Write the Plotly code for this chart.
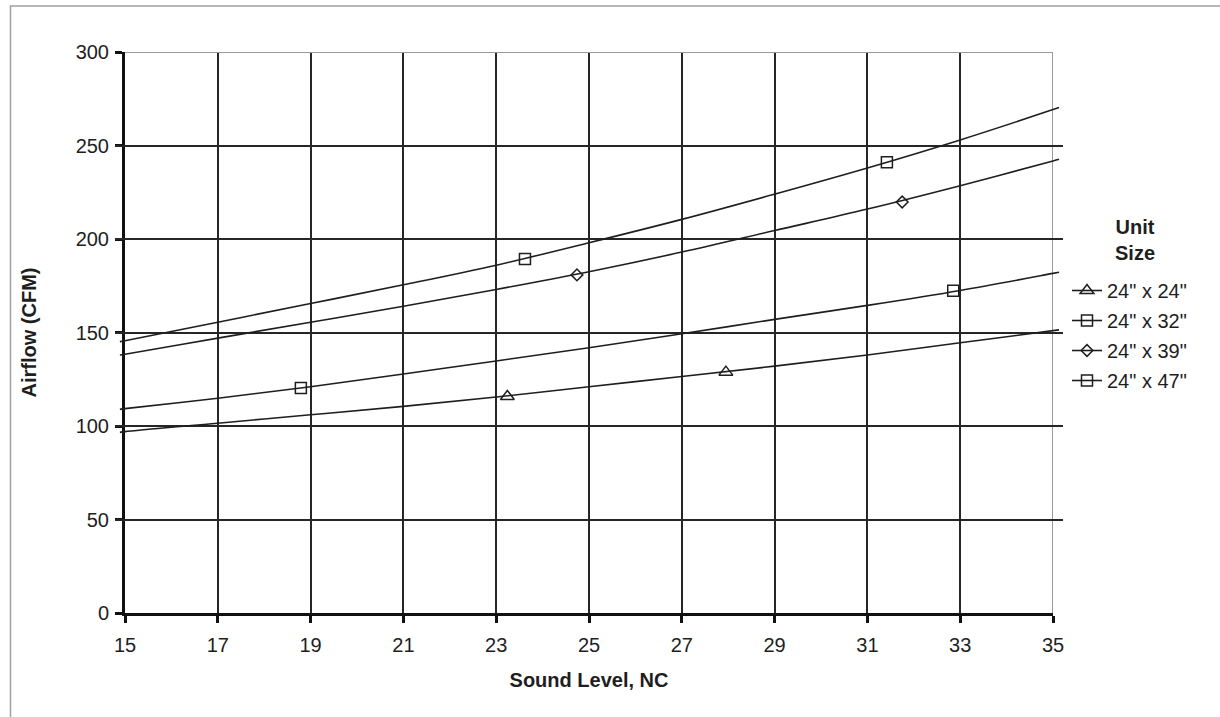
import plotly.graph_objects as go

# ---------------- data ----------------
x_ticks = [15, 17, 19, 21, 23, 25, 27, 29, 31, 33, 35]
y_ticks = [0, 50, 100, 150, 200, 250, 300]

series_names = ['24" x 24"', '24" x 32"', '24" x 39"', '24" x 47"']
series_symbols = ["triangle-up-open", "square-open", "diamond-open", "square-open"]
series_marker_sizes = [12, 11, 9, 11]

# trend curves (sampled along the drawn line)
curve_x = [14.89, 15, 17, 19, 21, 23, 25, 27, 29, 31, 33, 35, 35.13]
curve_24x24 = [96.6, 97.0, 101.5, 106.0, 110.5, 115.5, 121.0, 126.5, 132.0, 138.0, 144.5, 151.0, 151.4]
curve_24x32 = [108.9, 109.3, 114.8, 121.0, 127.8, 134.8, 141.8, 149.3, 157.0, 164.5, 172.5, 181.6, 182.2]
curve_24x39 = [138.0, 138.4, 147.0, 155.5, 164.0, 173.0, 182.5, 193.0, 204.5, 216.0, 228.5, 241.7, 242.6]
curve_24x47 = [145.1, 145.6, 155.5, 165.5, 175.5, 186.0, 198.0, 210.5, 224.0, 238.0, 253.0, 269.2, 270.3]

# data points (markers)
pts_x_24x24 = [23.24, 27.95]
pts_y_24x24 = [115.8, 128.8]
pts_x_24x32 = [18.79, 32.85]
pts_y_24x32 = [120.3, 172.3]
pts_x_24x39 = [24.74, 31.75]
pts_y_24x39 = [180.8, 219.8]
pts_x_24x47 = [23.62, 31.42]
pts_y_24x47 = [189.3, 241.0]

curves = [curve_24x24, curve_24x32, curve_24x39, curve_24x47]
pts_x = [pts_x_24x24, pts_x_24x32, pts_x_24x39, pts_x_24x47]
pts_y = [pts_y_24x24, pts_y_24x32, pts_y_24x39, pts_y_24x47]

# ---------------- geometry ----------------
W, H = 1220, 717
ML, MR, MT, MB = 115, 157, 52, 104          # outer plot area (slightly wider than axes)
AX_L, AX_R = 125, 1053                       # pixel positions of x=15 and x=35
plot_w = W - ML - MR
plot_h = H - MT - MB
dom0 = (AX_L - ML) / plot_w
dom1 = (AX_R - ML) / plot_w
upx = (x_ticks[-1] - x_ticks[0]) / (AX_R - AX_L)
x2_range = [x_ticks[0] - (AX_L - ML) * upx, x_ticks[-1] + (W - MR - AX_R) * upx]


def px_x(p):
    return (p - ML) / plot_w


def px_y(p):
    return 1 - (p - MT) / plot_h


FONT = "Liberation Sans, Arial, sans-serif"
INK = "#1e1e1e"
GRID = "#262626"

fig = go.Figure()

for i, (name, sym, ms, cy, px, py) in enumerate(zip(series_names, series_symbols,
                                                    series_marker_sizes, curves, pts_x, pts_y)):
    grp = "g%d" % i
    fig.add_trace(go.Scatter(
        x=curve_x, y=cy, mode="lines", xaxis="x2", yaxis="y", legendgroup=grp,
        line=dict(color=INK, width=1.6, shape="spline"),
        showlegend=False, hoverinfo="skip"))
    fig.add_trace(go.Scatter(
        x=px, y=py, mode="markers", xaxis="x", yaxis="y", legendgroup=grp,
        marker=dict(symbol=sym, size=ms, color=INK, line=dict(color=INK, width=1.5)),
        showlegend=False, name=name))
    fig.add_trace(go.Scatter(
        x=[None], y=[None], mode="lines+markers", name=name, legendgroup=grp,
        line=dict(color=INK, width=1.6),
        marker=dict(symbol=sym, size=ms, color=INK, line=dict(color=INK, width=1.5))))

fig.update_layout(
    width=W, height=H,
    margin=dict(l=ML, r=MR, t=MT, b=MB, pad=0),
    paper_bgcolor="white", plot_bgcolor="rgba(0,0,0,0)",
    font=dict(family=FONT, size=20, color=INK),
    showlegend=True,
    legend=dict(
        x=px_x(1067), xanchor="left", y=px_y(271), yanchor="top",
        bgcolor="rgba(0,0,0,0)", borderwidth=0,
        font=dict(size=20, color=INK),
        tracegroupgap=1, itemwidth=30,
    ),
    xaxis=dict(
        domain=[dom0, dom1], range=[x_ticks[0], x_ticks[-1]],
        tickvals=x_ticks, ticktext=[str(v) for v in x_ticks],
        showgrid=True, gridcolor=GRID, gridwidth=1.5,
        showline=True, linecolor="#111", linewidth=3,
        ticks="outside", ticklen=7, tickwidth=3, tickcolor="#111",
        ticklabelstandoff=5,
        zeroline=False, anchor="y",
        title=dict(text="<b>Sound Level, NC</b>", standoff=18, font=dict(size=20)),
    ),
    xaxis2=dict(domain=[0, 1], range=x2_range, visible=False, anchor="y",
                showgrid=False, zeroline=False),
    yaxis=dict(
        range=[y_ticks[0], y_ticks[-1]], tickvals=y_ticks,
        showgrid=True, gridcolor=GRID, gridwidth=1.5,
        showline=True, linecolor="#111", linewidth=3,
        ticks="outside", ticklen=7, tickwidth=3, tickcolor="#111",
        ticklabelstandoff=2,
        zeroline=False, anchor="x",
        title=dict(text="<b>Airflow (CFM)</b>", standoff=34, font=dict(size=20)),
    ),
    annotations=[dict(
        text="<b>Unit<br>Size</b>", xref="paper", yref="paper",
        x=px_x(1135), y=px_y(240.5), xanchor="center", yanchor="middle",
        showarrow=False, align="center", font=dict(size=20, color=INK))],
)

# gray top / right frame of the plot area
fig.add_shape(type="line", xref="x", yref="y", x0=x_ticks[0], x1=x_ticks[-1],
              y0=y_ticks[-1], y1=y_ticks[-1], line=dict(color="#9a9a9a", width=2), layer="between")
fig.add_shape(type="line", xref="x", yref="y", x0=x_ticks[-1], x1=x_ticks[-1],
              y0=y_ticks[0], y1=y_ticks[-1], line=dict(color="#9a9a9a", width=2), layer="between")

# outer chart frame (left and top edges visible)
fig.add_shape(type="rect", xref="paper", yref="paper",
              x0=px_x(10.5), x1=1.5, y0=-0.5, y1=px_y(6),
              line=dict(color="#a0a0a0", width=1.5), fillcolor="rgba(0,0,0,0)", layer="below")

fig.write_html("out.html",
               config={"displayModeBar": False},
               post_script="document.body.style.margin='0px';document.body.style.padding='0px';")
